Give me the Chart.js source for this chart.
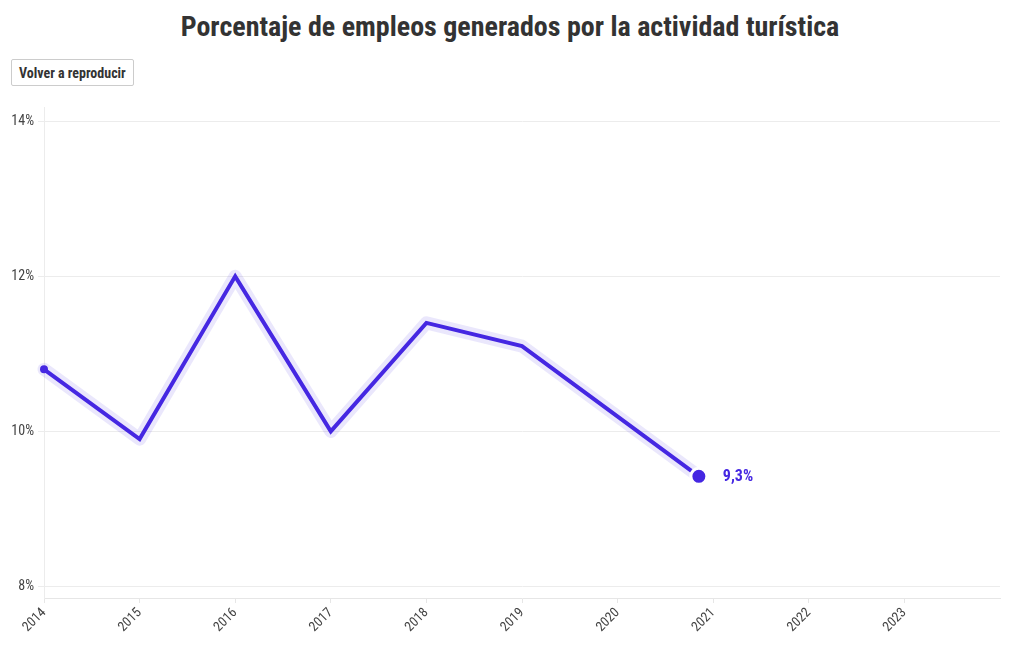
<!DOCTYPE html>
<html>
<head>
<meta charset="utf-8">
<script src="https://cdn.jsdelivr.net/npm/chart.js@4.4.0/dist/chart.umd.min.js"></script>
<style>
  body { margin: 0; background: #fff; font-family: "Roboto Condensed", "Liberation Sans Narrow", "DejaVu Sans Condensed", sans-serif; }
  h1 { position: absolute; left: 0; top: 10px; width: 1020px; margin: 0; text-align: center;
       font-size: 28px; font-weight: bold; color: #333; }
  #replay { position: absolute; left: 11px; top: 59px; height: 27px; padding: 0 7px;
       background: #fff; border: 1px solid #ccc; border-radius: 2px;
       font-family: inherit; font-size: 14px; font-weight: bold; color: #333; }
  #wrap { position: absolute; left: 0; top: 95px; width: 1020px; height: 555px; }
</style>
</head>
<body>
<h1>Porcentaje de empleos generados por la actividad turística</h1>
<button id="replay">Volver a reproducir</button>
<div id="wrap"><canvas id="empleos-chart"></canvas></div>
<script>
// años y % de empleo turístico (último punto = donde queda la animación)
let years = [2014, 2015, 2016, 2017, 2018, 2019, 2020.85];
let shares = [10.8, 9.9, 12.0, 10.0, 11.4, 11.1, 9.42];
let xTicks = [2014, 2015, 2016, 2017, 2018, 2019, 2020, 2021, 2022, 2023];
let yTicks = [8, 10, 12, 14];
let lastLabel = '9,3%';

let mainColor = '#4527e2';
let font = '"Roboto Condensed", "Liberation Sans Narrow", "DejaVu Sans Condensed", sans-serif';

let points = years.map((y, i) => ({ x: y, y: shares[i] }));
let last = points[points.length - 1];

let endLabel = {
    id: 'endLabel',
    afterDatasetsDraw(chart) {
        let ctx = chart.ctx;
        let px = chart.scales.x.getPixelForValue(last.x);
        let py = chart.scales.y.getPixelForValue(last.y);
        ctx.save();
        ctx.font = 'bold 16px ' + font;
        ctx.fillStyle = mainColor;
        ctx.textBaseline = 'middle';
        ctx.fillText(lastLabel, px + 24, py + 1);
        ctx.restore();
    }
};

let config = {
    type: 'line',
    data: {
        datasets: [{
            data: [last],
            borderColor: '#fff',
            backgroundColor: mainColor,
            pointRadius: 8,
            pointBorderWidth: 3,
            showLine: false,
            order: 0
        }, {
            data: points,
            borderColor: mainColor,
            borderWidth: 4,
            borderJoinStyle: 'miter',
            backgroundColor: mainColor,
            pointRadius: points.map((p, i) => i === 0 ? 4 : 0),
            pointBorderWidth: 0,
            tension: 0,
            fill: false,
            order: 1
        }, {
            data: points,
            borderColor: 'rgba(90, 70, 235, 0.13)',
            borderWidth: 13,
            borderJoinStyle: 'round',
            borderCapStyle: 'round',
            pointRadius: 0,
            tension: 0,
            fill: false,
            order: 2
        }]
    },
    options: {
        responsive: true,
        maintainAspectRatio: false,
        animation: false,
        clip: false,
        layout: { padding: { top: 10, right: 20, left: 0, bottom: 0 } },
        plugins: { legend: { display: false }, tooltip: { enabled: false } },
        scales: {
            x: {
                type: 'linear',
                min: 2014,
                max: 2024,
                afterBuildTicks: axis => { axis.ticks = xTicks.map(v => ({ value: v })); },
                afterFit: axis => { axis.height = 52; },
                grid: { drawOnChartArea: false, drawTicks: true, tickLength: 5, color: '#e6e6e6' },
                border: { color: '#e6e6e6' },
                ticks: {
                    maxRotation: 45, minRotation: 45, padding: 2,
                    color: '#444', font: { family: font, size: 13.5 },
                    callback: v => String(v)
                }
            },
            y: {
                min: 7.85,
                max: 14.18,
                afterBuildTicks: axis => { axis.ticks = yTicks.map(v => ({ value: v })); },
                afterFit: axis => { axis.width = 44; },
                grid: { color: '#ececec', tickLength: 6 },
                border: { color: '#ececec' },
                ticks: {
                    padding: 4,
                    color: '#444', font: { family: font, size: 14 },
                    callback: v => v + '%'
                }
            }
        }
    },
    plugins: [endLabel]
};

let empleosChart = new Chart(document.getElementById('empleos-chart'), config);
</script>
</body>
</html>
